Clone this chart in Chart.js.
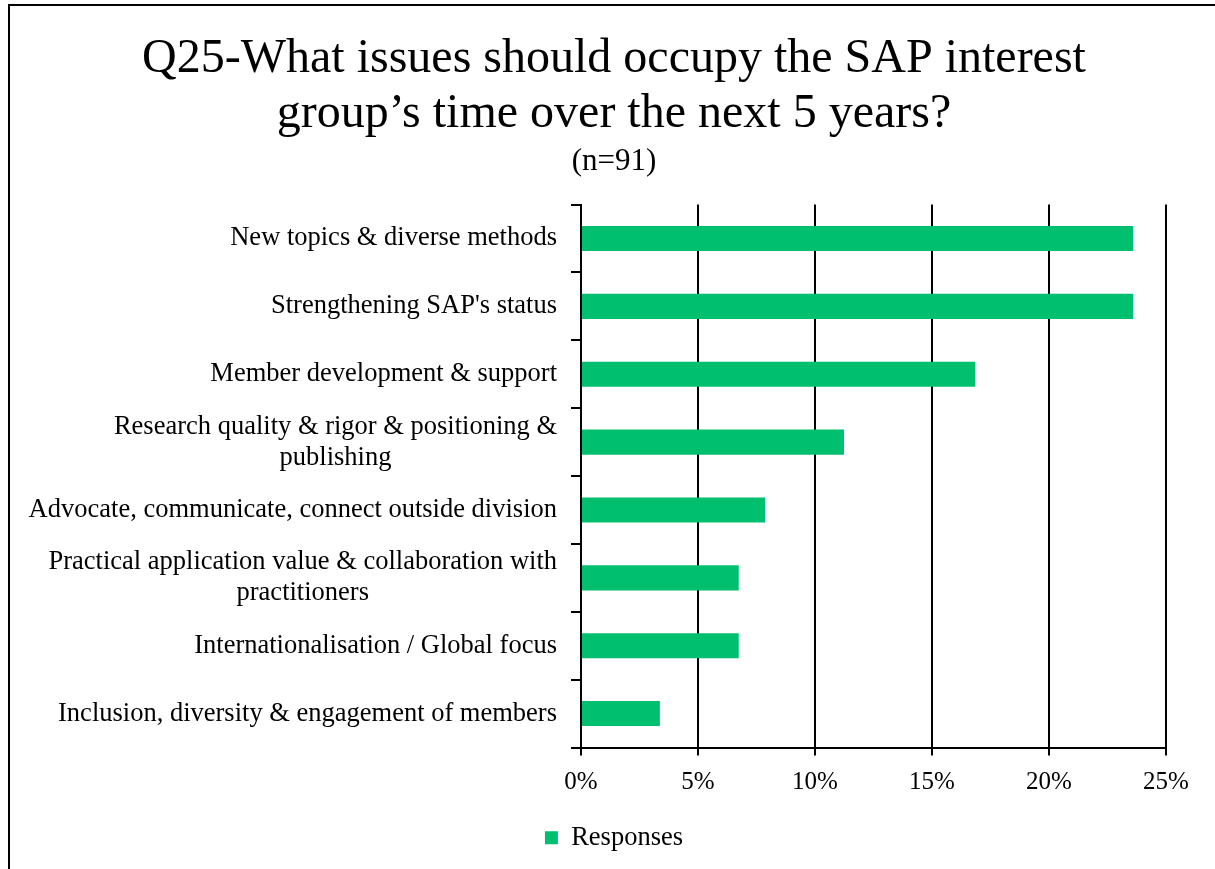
<!DOCTYPE html>
<html>
<head>
<meta charset="utf-8">
<script src="https://cdn.jsdelivr.net/npm/chart.js@4"></script>
<style>
  html, body { margin: 0; padding: 0; background: #fff; }
  body { width: 1215px; height: 869px; overflow: hidden; position: relative; }
  #frame { position: absolute; left: 8px; top: 4px; width: 1300px; height: 900px;
           border-top: 2px solid #000; border-left: 2px solid #000; }
  #wrap { position: absolute; left: 0; top: 0; width: 1215px; height: 861px; }
</style>
</head>
<body>
<div id="frame"></div>
<div id="wrap"><canvas id="chart"></canvas></div>
<script>
const categories = [
  'New topics & diverse methods',
  "Strengthening SAP's status",
  'Member development & support',
  ['Research quality & rigor & positioning &', 'publishing'],
  'Advocate, communicate, connect outside division',
  ['Practical application value & collaboration with', 'practitioners'],
  'Internationalisation / Global focus',
  'Inclusion, diversity & engagement of members'
];
const responses = [23.6, 23.6, 16.85, 11.24, 7.87, 6.74, 6.74, 3.37];
const xTicks = [0, 5, 10, 15, 20, 25];

const serif = 'Liberation Serif, Times New Roman, serif';
const green = '#00BF6F';
const labelSize = 26.5;

// y labels drawn by hand so wrapped lines are centred on each other, as in Excel
const centredLabels = {
  id: 'centredLabels',
  afterDraw(chart) {
    const y = chart.scales.y;
    const c = chart.ctx;
    const right = y.right - 10 - 14;
    const lineH = 31;
    c.save();
    c.font = labelSize + 'px ' + serif;
    c.fillStyle = '#000';
    c.textAlign = 'center';
    c.textBaseline = 'middle';
    categories.forEach((lab, i) => {
      const lines = Array.isArray(lab) ? lab : [lab];
      const w = Math.max(...lines.map(s => c.measureText(s).width));
      const cx = right - w / 2;
      const py = y.getPixelForTick(i);
      const y0 = py - (lines.length - 1) * lineH / 2;
      lines.forEach((s, k) => c.fillText(s, cx, y0 + k * lineH));
    });
    c.restore();
  }
};

const ctx = document.getElementById('chart');
new Chart(ctx, {
  type: 'bar',
  data: {
    labels: categories,
    datasets: [{
      label: 'Responses',
      data: responses,
      backgroundColor: green,
      barPercentage: 0.37,
      categoryPercentage: 1
    }]
  },
  plugins: [centredLabels],
  options: {
    indexAxis: 'y',
    responsive: true,
    maintainAspectRatio: false,
    animation: false,
    layout: { padding: { left: 62, right: 49, top: 32, bottom: 0 } },
    plugins: {
      title: {
        display: true,
        text: ['Q25-What issues should occupy the SAP interest', 'group\u2019s time over the next 5 years?'],
        color: '#000',
        font: { family: serif, size: 48, weight: 'normal', lineHeight: 1.15 },
        padding: { top: 0, bottom: 1 }
      },
      subtitle: {
        display: true,
        text: '(n=91)',
        color: '#000',
        font: { family: serif, size: 31, weight: 'normal', lineHeight: 1.2 },
        padding: { top: 0, bottom: 24 }
      },
      legend: {
        position: 'bottom',
        labels: {
          color: '#000',
          font: { family: serif, size: labelSize },
          boxWidth: 13,
          boxHeight: 13,
          padding: 15
        }
      },
      tooltip: { enabled: false }
    },
    scales: {
      x: {
        min: 0,
        max: 25,
        afterBuildTicks: axis => { axis.ticks = xTicks.map(v => ({ value: v })); },
        ticks: {
          color: '#000',
          font: { family: serif, size: 25 },
          padding: 12,
          maxRotation: 0,
          callback: v => v + '%'
        },
        grid: { color: '#000', lineWidth: 2, tickLength: 8 },
        border: { color: '#000', width: 2 }
      },
      y: {
        afterFit: s => { s.width = 581 - 62; },
        ticks: {
          color: 'rgba(0,0,0,0)',
          font: { family: serif, size: labelSize },
          padding: 14
        },
        grid: { offset: true, drawOnChartArea: false, color: '#000', lineWidth: 2, tickLength: 10 },
        border: { color: '#000', width: 2 }
      }
    }
  }
});
</script>
</body>
</html>
